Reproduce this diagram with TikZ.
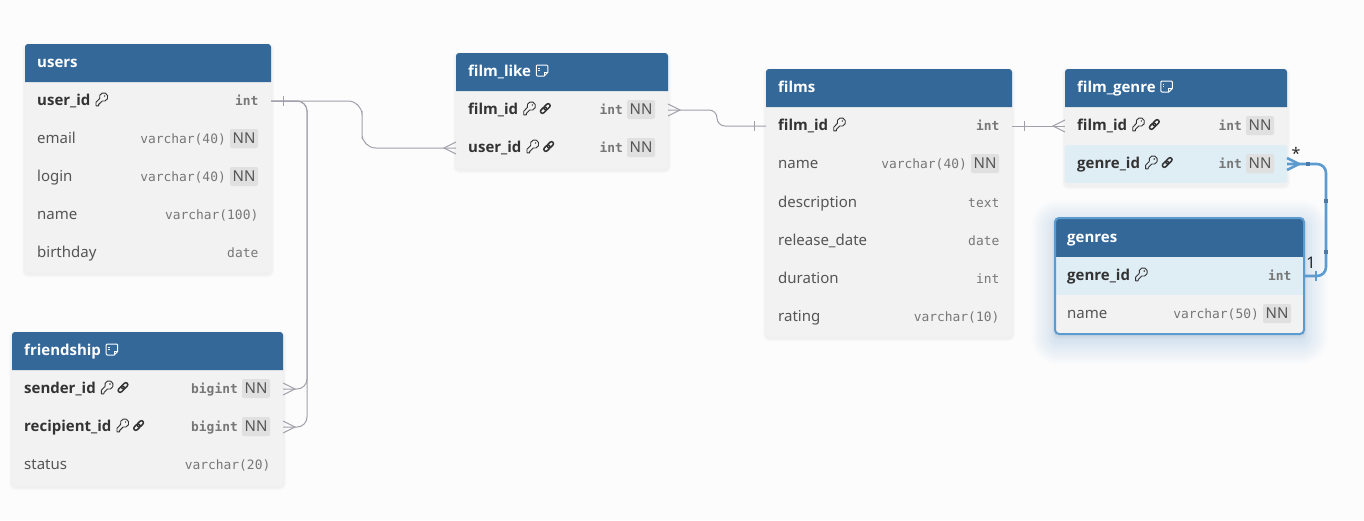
\documentclass[tikz,border=0pt]{standalone}
\usepackage{fontspec}
\setmainfont{Noto Sans}[BoldFont={Open Sans Bold}]
\setmonofont{DejaVu Sans Mono}
\usetikzlibrary{positioning}
\definecolor{pageColor}{RGB}{252,252,252}
\definecolor{headerColor}{RGB}{51,104,153}
\definecolor{cardColor}{RGB}{242,242,242}
\definecolor{rowBlue}{RGB}{223,237,245}
\definecolor{badgeColor}{RGB}{224,224,224}
\definecolor{nameColor}{RGB}{51,51,51}
\definecolor{plainColor}{RGB}{85,85,85}
\definecolor{typeColor}{RGB}{119,119,119}
\definecolor{relColor}{RGB}{160,160,170}
\definecolor{relBlue}{RGB}{92,155,208}
\definecolor{glowBlue}{RGB}{40,100,230}
\definecolor{handleBlue}{RGB}{76,122,165}
\tikzstyle{erd} = [x = 1pt, y = -1pt]
\tikzstyle{cardStyle} = [fill=cardColor, rounded corners = 3pt]
\tikzstyle{headerStyle} = [fill=headerColor]
\tikzstyle{titleText} = [font=\fontsize{15}{18}\selectfont\bfseries, text=white, anchor=base west, inner sep=0pt]
\tikzstyle{rowBox} = [inner sep=0pt, outer sep=0pt, anchor=north west]
\tikzstyle{rowPlain} = []
\tikzstyle{rowBlueFill} = [fill=rowBlue]
\tikzstyle{keyText} = [font=\fontsize{15}{18}\selectfont\bfseries, text=nameColor, anchor=base west, inner sep=0pt, yshift=-0.5pt]
\tikzstyle{plainText} = [font=\fontsize{15}{18}\selectfont, text=plainColor, anchor=base west, inner sep=0pt]
\tikzstyle{keyType} = [font=\fontsize{12.9}{16}\selectfont\ttfamily\bfseries, text=typeColor, anchor=base east, inner sep=0pt]
\tikzstyle{plainType} = [font=\fontsize{12.9}{16}\selectfont\ttfamily, text=typeColor, anchor=base east, inner sep=0pt]
\tikzstyle{badgeStyle} = [fill=badgeColor, rounded corners = 2pt, font=\fontsize{15}{16}\selectfont, text=plainColor, minimum width=28pt, minimum height=19pt, inner sep=0pt]
\tikzstyle{iconLine} = [color=nameColor, line width=0.9pt, line join=round]
\tikzstyle{linkLine} = [color=nameColor, line width=1.5pt, rounded corners = 2pt]
\tikzstyle{relLine} = [color=relColor, line width=1pt]
\tikzstyle{relActive} = [color=relBlue, line width=2.6pt]
\tikzstyle{relHandle} = [fill=handleBlue, minimum size=4pt, inner sep=0pt]
\tikzstyle{cardinalText} = [font=\fontsize{16}{18}\selectfont, text=black!85, inner sep=0pt]
\newcommand{\softShadow}[7]{
  \foreach \spread in {#5} {
    \pgfmathsetmacro{\corner}{3 + \spread}
    \fill [#6, opacity=#7, rounded corners = \corner pt] (#1 - \spread, #2 - \spread + 2) rectangle (#3 + \spread, #4 + \spread + 2);
  }
}
\newcommand{\tableCard}[6]{
  \softShadow{#2}{#3}{#2 + #4}{#3 + #5}{1,2,3}{black}{0.014}
  \fill [cardStyle] (#2, #3) rectangle + (#4, #5);
  \fill [headerStyle] (#2, #3 + 38) [rounded corners = 3pt] -- (#2, #3) -- (#2 + #4, #3) [sharp corners] -- (#2 + #4, #3 + 38) -- cycle;
  \node [titleText] (#1) at (#2 + 12, #3 + 23) {#6};
}
\newcommand{\plainRow}[8]{
  \node [rowBox, #5, minimum width=#4pt, minimum height=38pt] (#1) at (#2, #3) {};
  \node [plainText] (#1Label) at (#2 + 12, #3 + 23) {#6};
  \node [#7] (#1Type) at (#2 + #4 - 12.5, #3 + 23) {#8};
}
\newcommand{\keyRow}[8]{
  \node [rowBox, #5, minimum width=#4pt, minimum height=38pt] (#1) at (#2, #3) {};
  \node [keyText] (#1Label) at (#2 + 12, #3 + 23) {#6};
  \node [#7] (#1Type) at (#2 + #4 - 12.5, #3 + 23) {#8};
}
\newcommand{\nullRow}[8]{
  \node [rowBox, #5, minimum width=#4pt, minimum height=38pt] (#1) at (#2, #3) {};
  \node [#7Text] (#1Label) at (#2 + 12, #3 + 23) {#6};
  \node [#7Type] (#1Type) at (#2 + #4 - 45, #3 + 23) {#8};
  \node [badgeStyle] (#1Badge) at (#2 + #4 - 27, #3 + 18.5) {NN};
}
\newcommand{\keyIcon}[1]{
  \begin{scope}[shift={(#1Label.base east)}, xshift=5pt, yshift=6.5pt]
    \draw [iconLine] (4.05, -0.56) arc (160:470:4.2) -- (3, 5.5) -- (3, 6.8) -- (0.4, 6.8) -- (0.4, 3.2) -- cycle;
    \fill [nameColor] (9, -3) circle (0.8);
  \end{scope}
}
\newcommand{\linkIcon}[1]{
  \begin{scope}[shift={(#1Label.base east)}, xshift=27pt, yshift=6pt, rotate=45]
    \draw [linkLine] (-6, -2) rectangle (1.2, 2);
    \draw [linkLine] (-1.2, -2) rectangle (6, 2);
  \end{scope}
}
\newcommand{\noteIcon}[1]{
  \begin{scope}[shift={(#1.base east)}, xshift=5pt, yshift=11pt]
    \draw [white, line width=1pt, line join=round] (0, 1) -- (0, 10) -- (1, 11) -- (8, 11) -- (11.5, 7.5) -- (11.5, 1) -- (10.5, 0) -- (1, 0) -- cycle;
    \draw [white, line width=1pt] (11.5, 7.5) -- (8, 7.5) -- (8, 11);
    \draw [white, line width=1pt] (2.2, 3) -- (3.4, 3) (2.2, 5.5) -- (3.4, 5.5);
  \end{scope}
}
\newcommand{\crowFoot}[3]{
  \draw [#3] ([yshift=6pt]#1) -- ++ (#2 * 12, 6) -- ++ (-#2 * 12, 6);
}
\newcommand{\oneBar}[3]{
  \draw [#3] ([xshift=#2 * 12pt, yshift=5pt]#1) -- ++ (0, 10);
}

\begin{document}
\begin{tikzpicture}[erd]
  \useasboundingbox (0, 0) rectangle (1364, 520);
  \fill [pageColor] (0, 0) rectangle (1364, 520);

  \tableCard{usersTitle}{25}{44}{246}{228}{users}
  \keyRow{usersUserId}{25}{82}{246}{rowPlain}{user\_id}{keyType}{int}
  \keyIcon{usersUserId}
  \nullRow{usersEmail}{25}{120}{246}{rowPlain}{email}{plain}{varchar(40)}
  \nullRow{usersLogin}{25}{158}{246}{rowPlain}{login}{plain}{varchar(40)}
  \plainRow{usersName}{25}{196}{246}{rowPlain}{name}{plainType}{varchar(100)}
  \plainRow{usersBirthday}{25}{234}{246}{rowPlain}{birthday}{plainType}{date}

  \tableCard{friendshipTitle}{12}{332}{271}{153}{friendship}
  \noteIcon{friendshipTitle}
  \nullRow{friendshipSenderId}{12}{370}{271}{rowPlain}{sender\_id}{key}{bigint}
  \keyIcon{friendshipSenderId}
  \linkIcon{friendshipSenderId}
  \nullRow{friendshipRecipientId}{12}{408}{271}{rowPlain}{recipient\_id}{key}{bigint}
  \keyIcon{friendshipRecipientId}
  \linkIcon{friendshipRecipientId}
  \plainRow{friendshipStatus}{12}{446}{271}{rowPlain}{status}{plainType}{varchar(20)}

  \tableCard{filmLikeTitle}{456}{53}{212}{115}{film\_like}
  \noteIcon{filmLikeTitle}
  \nullRow{filmLikeFilmId}{456}{91}{212}{rowPlain}{film\_id}{key}{int}
  \keyIcon{filmLikeFilmId}
  \linkIcon{filmLikeFilmId}
  \nullRow{filmLikeUserId}{456}{129}{212}{rowPlain}{user\_id}{key}{int}
  \keyIcon{filmLikeUserId}
  \linkIcon{filmLikeUserId}

  \tableCard{filmsTitle}{766}{69}{246}{267}{films}
  \keyRow{filmsFilmId}{766}{107}{246}{rowPlain}{film\_id}{keyType}{int}
  \keyIcon{filmsFilmId}
  \nullRow{filmsName}{766}{145}{246}{rowPlain}{name}{plain}{varchar(40)}
  \plainRow{filmsDescription}{766}{184}{246}{rowPlain}{description}{plainType}{text}
  \plainRow{filmsReleaseDate}{766}{222}{246}{rowPlain}{release\_date}{plainType}{date}
  \plainRow{filmsDuration}{766}{260}{246}{rowPlain}{duration}{plainType}{int}
  \plainRow{filmsRating}{766}{298}{246}{rowPlain}{rating}{plainType}{varchar(10)}

  \tableCard{filmGenreTitle}{1065}{69}{222}{115}{film\_genre}
  \noteIcon{filmGenreTitle}
  \nullRow{filmGenreFilmId}{1065}{107}{222}{rowPlain}{film\_id}{key}{int}
  \keyIcon{filmGenreFilmId}
  \linkIcon{filmGenreFilmId}
  \nullRow{filmGenreGenreId}{1065}{145}{222}{rowBlueFill, rounded corners = 3pt}{genre\_id}{key}{int}
  \keyIcon{filmGenreGenreId}
  \linkIcon{filmGenreGenreId}

  % genres is the selected table
  \softShadow{1055}{222}{1304}{338}{2,4,...,24}{glowBlue}{0.012}
  \tableCard{genresTitle}{1055}{219}{249}{115}{genres}
  \keyRow{genresGenreId}{1055}{257}{249}{rowBlueFill}{genre\_id}{keyType}{int}
  \keyIcon{genresGenreId}
  \nullRow{genresName}{1055}{295}{249}{rowPlain}{name}{plain}{varchar(50)}
  \draw [relBlue, line width=2pt, rounded corners = 4pt] (1055, 218) rectangle (1304, 334);

  \coordinate (usersBus) at (307, 250);
  \coordinate (likeBus) at (362, 125);
  \coordinate (filmBus) at (717, 118);
  \coordinate (genreBus) at (1326, 220);

  \draw [relLine, rounded corners = 10pt] (usersUserId.east) -| (usersBus) |- (friendshipSenderId.east);
  \draw [relLine, rounded corners = 10pt] (usersUserId.east) -| (usersBus) |- (friendshipRecipientId.east);
  \draw [relLine, rounded corners = 14pt] (usersUserId.east) -| (likeBus) |- (filmLikeUserId.west);
  \draw [relLine, rounded corners = 8pt] (filmLikeFilmId.east) -| (filmBus |- filmsFilmId.west) -- (filmsFilmId.west);
  \draw [relLine] (filmsFilmId.east) -- (filmGenreFilmId.west);
  \draw [relActive, rounded corners = 9pt] (filmGenreGenreId.east) -| (genreBus) |- (genresGenreId.east);

  \oneBar{usersUserId.east}{1}{relLine}
  \crowFoot{friendshipSenderId.east}{1}{relLine}
  \crowFoot{friendshipRecipientId.east}{1}{relLine}
  \crowFoot{filmLikeUserId.west}{-1}{relLine}
  \crowFoot{filmLikeFilmId.east}{1}{relLine}
  \oneBar{filmsFilmId.west}{-1}{relLine}
  \oneBar{filmsFilmId.east}{1}{relLine}
  \crowFoot{filmGenreFilmId.west}{-1}{relLine}
  \crowFoot{filmGenreGenreId.east}{1}{relActive}
  \oneBar{genresGenreId.east}{1}{relActive}

  \node [relHandle] (handleTop) at (1308, 164) {};
  \node [relHandle] (handleMiddle) at (1326, 201) {};
  \node [relHandle] (handleBottom) at (1326, 252) {};
  \node [cardinalText] (manyLabel) at (1296, 153) {*};
  \node [cardinalText] (oneLabel) at (1311, 263) {1};
\end{tikzpicture}
\end{document}
